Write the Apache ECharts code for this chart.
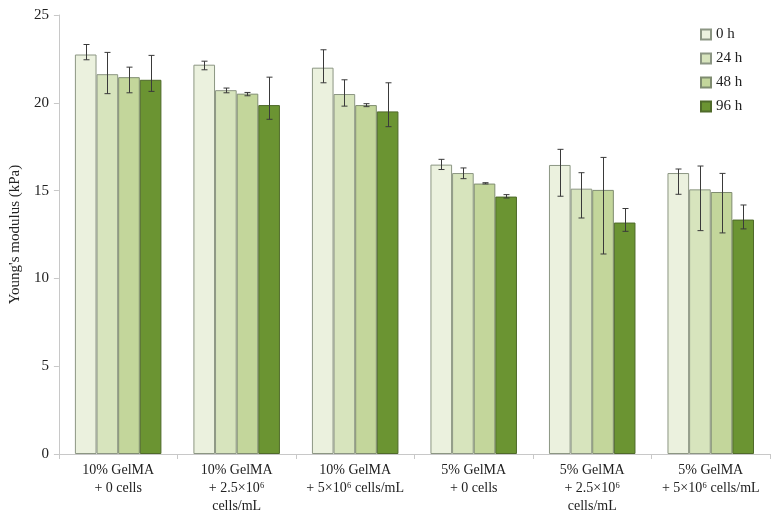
<!DOCTYPE html>
<html>
<head>
<meta charset="utf-8">
<script src="https://cdn.jsdelivr.net/npm/echarts@6/dist/echarts.min.js"></script>
<style>html,body{margin:0;padding:0;background:#fff}#c{width:784px;height:528px}</style>
</head>
<body>
<div id="c"></div>
<script>
const categories = [
  "10% GelMA\n+ 0 cells",
  "10% GelMA\n+ 2.5×10⁶\ncells/mL",
  "10% GelMA\n+ 5×10⁶ cells/mL",
  "5% GelMA\n+ 0 cells",
  "5% GelMA\n+ 2.5×10⁶\ncells/mL",
  "5% GelMA\n+ 5×10⁶ cells/mL"
];
const seriesNames = ["0 h", "24 h", "48 h", "96 h"];
const h0  = [22.75, 22.17, 22.0, 16.48, 16.46, 16.0];
const h24 = [21.63, 20.72, 20.5, 16.0, 15.11, 15.07];
const h48 = [21.46, 20.52, 19.87, 15.4, 15.04, 14.92];
const h96 = [21.31, 19.87, 19.51, 14.66, 13.18, 13.35];
// error bar ends (upper / lower)
const h0Hi  = [23.32, 22.37, 23.02, 16.78, 17.35, 16.23];
const h0Lo  = [22.45, 21.88, 21.14, 16.2, 14.68, 14.79];
const h24Hi = [22.87, 20.84, 21.31, 16.29, 16.02, 16.4];
const h24Lo = [20.52, 20.57, 19.81, 15.68, 13.44, 12.72];
const h48Hi = [22.03, 20.59, 19.95, 15.45, 16.89, 15.98];
const h48Lo = [20.57, 20.40, 19.78, 15.38, 11.39, 12.59];
const h96Hi = [22.7, 21.46, 21.14, 14.77, 13.98, 14.18];
const h96Lo = [20.65, 19.06, 18.64, 14.58, 12.68, 12.82];
const yTicks = [0, 5, 10, 15, 20, 25];

const values = [h0, h24, h48, h96];
const his = [h0Hi, h24Hi, h48Hi, h96Hi];
const los = [h0Lo, h24Lo, h48Lo, h96Lo];
const fills = ["#ebf1de", "#d7e4bd", "#c3d69b", "#6b9432"];
const borders = ["#8c9683", "#8c9683", "#7f8c70", "#4f6a2a"];
const GAP = 0.27;
const FONT = "'Liberation Serif', 'Times New Roman', serif";

const series = [];
values.forEach((v, i) => {
  series.push({
    name: seriesNames[i], type: 'bar', data: v,
    barGap: '0%', barCategoryGap: (GAP*100) + '%',
    itemStyle: { color: fills[i], borderColor: borders[i], borderWidth: 1 }
  });
});
values.forEach((v, i) => {
  series.push({
    type: 'custom', name: seriesNames[i] + ' err', z: 10,
    data: categories.map((c, k) => [k, los[i][k], his[i][k]]),
    encode: { x: 0, y: [1, 2] },
    renderItem: function (params, api) {
      const k = api.value(0);
      const catW = api.size([1, 0])[0];
      const bw = catW * (1 - GAP) / 4;
      const lo = api.coord([k, api.value(1)]);
      const hi = api.coord([k, api.value(2)]);
      const x = Math.round(lo[0] + (i - 1.5) * bw) + 0.5;
      const cap = 3;
      const st = { stroke: '#3a3a3a', lineWidth: 1 };
      return { type: 'group', children: [
        { type: 'line', shape: { x1: x, y1: hi[1], x2: x, y2: lo[1] }, style: st },
        { type: 'line', shape: { x1: x - cap, y1: hi[1], x2: x + cap, y2: hi[1] }, style: st },
        { type: 'line', shape: { x1: x - cap, y1: lo[1], x2: x + cap, y2: lo[1] }, style: st }
      ]};
    }
  });
});

const chart = echarts.init(document.getElementById('c'), null, { renderer: 'canvas' });
chart.setOption({
  animation: false,
  backgroundColor: '#fff',
  textStyle: { fontFamily: FONT },
  grid: { left: 58, right: 14, top: 15, bottom: 74 },
  legend: {
    data: seriesNames.map(n => ({ name: n, icon: 'rect' })),
    orient: 'vertical', left: 695, top: 22,
    itemWidth: 10, itemHeight: 10, itemGap: 9,
    textStyle: { fontFamily: FONT, fontSize: 15, color: '#222' }
  },
  xAxis: {
    type: 'category', data: categories,
    axisLine: { lineStyle: { color: '#c8c8c8' } },
    axisTick: { show: true, length: 5, lineStyle: { color: '#c8c8c8' } },
    axisLabel: { interval: 0, color: '#222', fontFamily: FONT, fontSize: 14, lineHeight: 18, margin: 7, verticalAlign: 'top' }
  },
  yAxis: {
    type: 'value', min: yTicks[0], max: yTicks[yTicks.length - 1], interval: 5,
    name: "Young's modulus (kPa)", nameLocation: 'middle', nameGap: 35, nameRotate: 90,
    nameTextStyle: { fontFamily: FONT, fontSize: 15, color: '#222' },
    axisLine: { show: true, lineStyle: { color: '#c8c8c8' } },
    axisTick: { show: true, length: 5, lineStyle: { color: '#c8c8c8' } },
    splitLine: { show: false },
    axisLabel: { color: '#222', fontFamily: FONT, fontSize: 15, margin: 10 }
  },
  series: series
});
</script>
</body>
</html>
